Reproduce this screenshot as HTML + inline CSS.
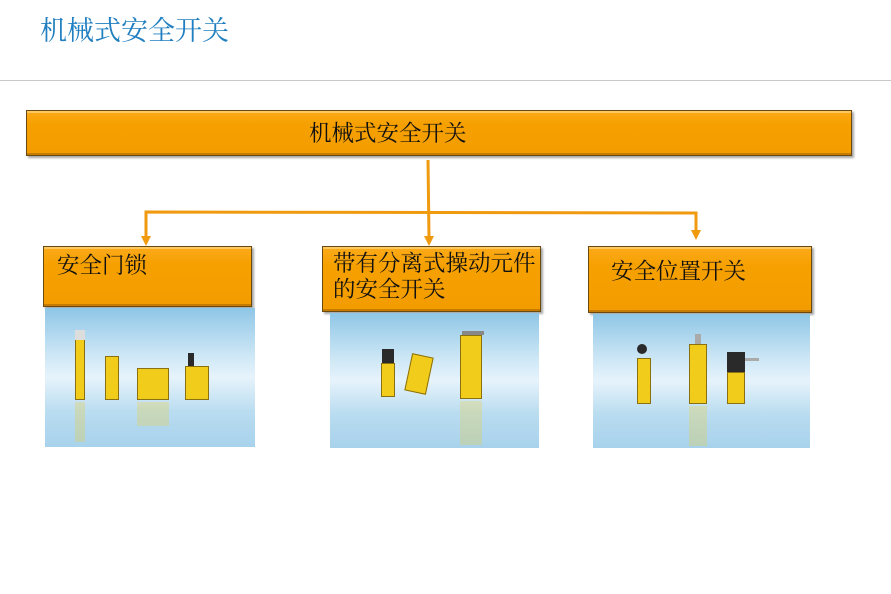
<!DOCTYPE html>
<html><head><meta charset="utf-8"><style>
*{margin:0;padding:0;box-sizing:border-box}
body{width:891px;height:594px;background:#fff;position:relative;overflow:hidden;font-family:"Liberation Serif","Noto Serif CJK SC",serif}
.title{position:absolute;left:40px;top:9px;font-size:27px;color:#1f7fc0;letter-spacing:0}
.rule{position:absolute;left:0;top:80px;width:891px;height:1px;background:#c8c8c8}
.box{position:absolute;background:linear-gradient(#fbaa1a,#f6a000 30%,#f29c00);border:1px solid #6a4a10;box-shadow:2px 2px 2px rgba(0,0,0,.35),inset 0 2px 0 rgba(255,220,140,.6),inset 0 -2px 0 rgba(150,90,0,.5);color:#111;font-size:22.5px;line-height:26px}
.img{position:absolute;background:linear-gradient(180deg,#8fc6e6 0%,#cfe8f6 35%,#e6f3fb 50%,#b9dcf0 75%,#a8d2ec 100%);overflow:hidden}
.p{position:absolute;background:#f2cc1a;border:1px solid #8a7010}
.d{position:absolute;background:#2a2a2a}
.r{position:absolute;background:rgba(242,204,26,.25)}
</style></head><body>
<div class="title">机械式安全开关</div>
<div class="rule"></div>
<div class="box" style="left:26px;top:110px;width:826px;height:46px;text-align:left;padding-left:282px;padding-top:10px">机械式安全开关</div>
<svg style="position:absolute;left:0;top:0" width="891" height="594">
<g stroke="#f09a10" stroke-width="3" fill="none">
<line x1="428" y1="160" x2="429" y2="238"/>
<polyline points="146,238 146,212 696,213 696,232"/>
</g>
<g fill="#f09a10">
<polygon points="141,236 151,236 146,246"/>
<polygon points="424,236 434,236 429,246"/>
<polygon points="691,230 701,230 696,240"/>
</g>
</svg>
<div class="box" style="left:43px;top:246px;width:209px;height:61px;padding:6px 0 0 13px">安全门锁</div>
<div class="box" style="left:322px;top:246px;width:219px;height:66px;padding:4px 0 0 10px">带有分离式操动元件<br>的安全开关</div>
<div class="box" style="left:588px;top:246px;width:224px;height:67px;padding:12px 0 0 22px">安全位置开关</div>

<div class="img" style="left:45px;top:308px;width:210px;height:139px">
<div class="p" style="left:30px;top:30px;width:10px;height:62px"></div><div class="d" style="left:30px;top:22px;width:10px;height:10px;background:#ddd"></div>
<div class="p" style="left:60px;top:48px;width:14px;height:44px"></div>
<div class="p" style="left:92px;top:60px;width:32px;height:32px"></div>
<div class="d" style="left:143px;top:45px;width:6px;height:14px"></div>
<div class="p" style="left:140px;top:58px;width:24px;height:34px"></div>
<div class="r" style="left:30px;top:94px;width:10px;height:40px"></div>
<div class="r" style="left:92px;top:94px;width:32px;height:24px"></div>
</div>
<div class="img" style="left:330px;top:313px;width:209px;height:135px">
<div class="d" style="left:52px;top:36px;width:12px;height:16px"></div>
<div class="p" style="left:51px;top:50px;width:14px;height:34px"></div>
<div class="p" style="left:78px;top:42px;width:22px;height:38px;transform:rotate(12deg)"></div>
<div class="d" style="left:132px;top:18px;width:22px;height:4px;background:#888"></div>
<div class="p" style="left:130px;top:22px;width:22px;height:64px"></div>
<div class="r" style="left:130px;top:88px;width:22px;height:44px"></div>
</div>
<div class="img" style="left:593px;top:314px;width:217px;height:134px">
<div class="d" style="left:44px;top:30px;width:10px;height:10px;border-radius:50%"></div>
<div class="p" style="left:44px;top:44px;width:14px;height:46px"></div>
<div class="d" style="left:102px;top:20px;width:6px;height:10px;background:#aaa"></div>
<div class="p" style="left:96px;top:30px;width:18px;height:60px"></div>
<div class="d" style="left:134px;top:38px;width:18px;height:22px"></div>
<div class="p" style="left:134px;top:58px;width:18px;height:32px"></div>
<div class="d" style="left:152px;top:44px;width:14px;height:3px;background:#aaa"></div>
<div class="r" style="left:96px;top:92px;width:18px;height:40px"></div>
</div>
</body></html>
